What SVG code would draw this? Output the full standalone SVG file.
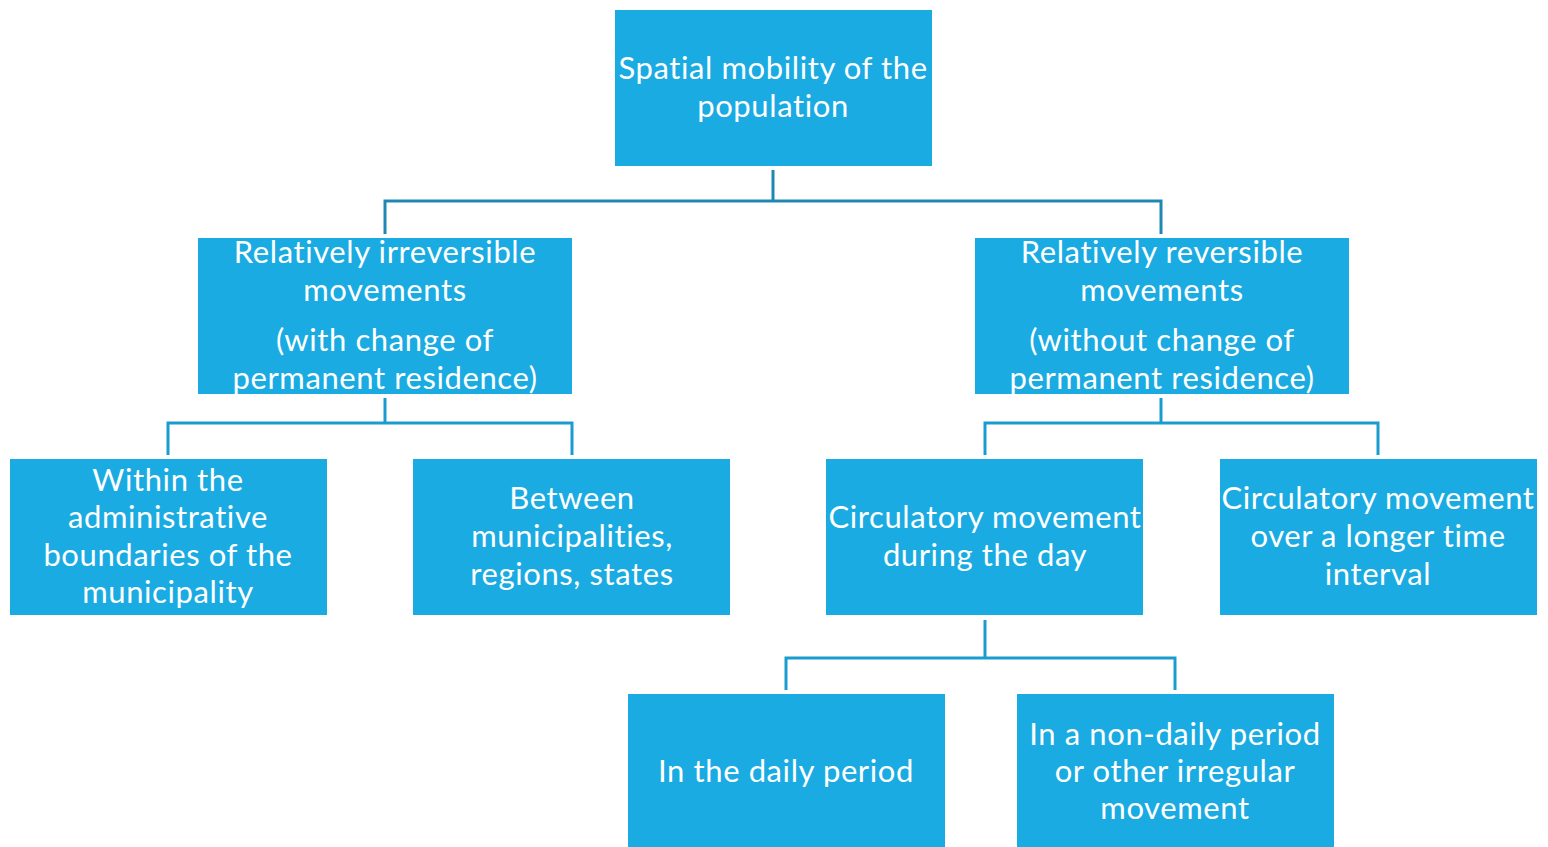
<svg xmlns="http://www.w3.org/2000/svg" width="1548" height="847" viewBox="0 0 1548 847">
<style>
.box{fill:#1aabe2}
.t{fill:#ffffff;font-family:Lato,"Open Sans",sans-serif;font-size:31px;letter-spacing:0.6px;text-anchor:middle}
.c{fill:none;stroke:#1b9ccf;stroke-width:3}
.c0{fill:none;stroke:#1f88b2;stroke-width:3}
</style>
<rect width="1548" height="847" fill="#ffffff"/>
<g id="connectors">
<path class="c0" d="M773,170 V201 M385,234 V201 H1161 V234"/>
<path class="c" d="M385,398 V423 M168,455 V423 H572 V455"/>
<path class="c" d="M1161,398 V423 M985,455 V423 H1378 V455"/>
<path class="c" d="M985,620 V658 M786,690 V658 H1175 V690"/>
</g>
<g id="root">
<rect class="box" x="615" y="10" width="317" height="156"/>
<text class="t" x="773" y="79">Spatial mobility of the</text>
<text class="t" x="773" y="117">population</text>
</g>
<g id="irreversible">
<rect class="box" x="198" y="238" width="374" height="156"/>
<text class="t" x="385" y="263">Relatively irreversible</text>
<text class="t" x="385" y="301">movements</text>
<text class="t" x="385" y="351">(with change of</text>
<text class="t" x="385" y="389">permanent residence)</text>
</g>
<g id="reversible">
<rect class="box" x="975" y="238" width="374" height="156"/>
<text class="t" x="1162" y="263">Relatively reversible</text>
<text class="t" x="1162" y="301">movements</text>
<text class="t" x="1162" y="351">(without change of</text>
<text class="t" x="1162" y="389">permanent residence)</text>
</g>
<g id="within">
<rect class="box" x="10" y="459" width="317" height="156"/>
<text class="t" x="168" y="491">Within the</text>
<text class="t" x="168" y="528">administrative</text>
<text class="t" x="168" y="566">boundaries of the</text>
<text class="t" x="168" y="603">municipality</text>
</g>
<g id="between">
<rect class="box" x="413" y="459" width="317" height="156"/>
<text class="t" x="572" y="509">Between</text>
<text class="t" x="572" y="547">municipalities,</text>
<text class="t" x="572" y="585">regions, states</text>
</g>
<g id="circ-day">
<rect class="box" x="826" y="459" width="317" height="156"/>
<text class="t" x="985" y="528">Circulatory movement</text>
<text class="t" x="985" y="566">during the day</text>
</g>
<g id="circ-long">
<rect class="box" x="1220" y="459" width="317" height="156"/>
<text class="t" x="1378" y="509">Circulatory movement</text>
<text class="t" x="1378" y="547">over a longer time</text>
<text class="t" x="1378" y="585">interval</text>
</g>
<g id="daily">
<rect class="box" x="628" y="694" width="317" height="153"/>
<text class="t" x="786" y="782">In the daily period</text>
</g>
<g id="nondaily">
<rect class="box" x="1017" y="694" width="317" height="153"/>
<text class="t" x="1175" y="745">In a non-daily period</text>
<text class="t" x="1175" y="782">or other irregular</text>
<text class="t" x="1175" y="819">movement</text>
</g>
</svg>
